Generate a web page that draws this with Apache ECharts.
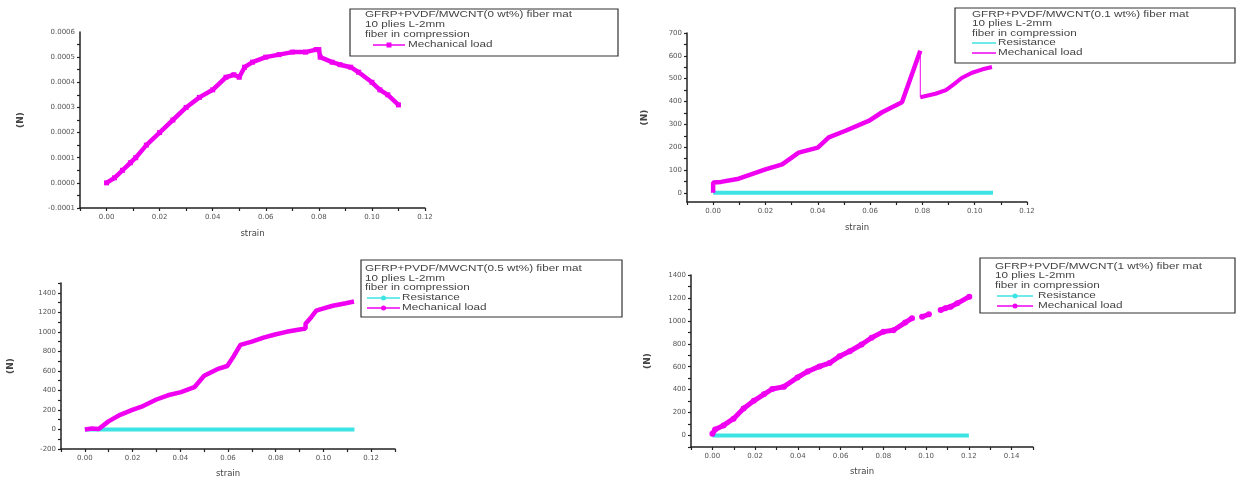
<!DOCTYPE html>
<html><head><meta charset="utf-8">
<script src="https://cdn.jsdelivr.net/npm/echarts@6/dist/echarts.min.js"></script>
<style>html,body{margin:0;padding:0;background:#fff}#c{width:1243px;height:479px}</style>
</head><body><div id="c"></div>
<script>
// ---------- DATA ----------
// Panel 1: 0 wt%
const strain1 = [0, 0.003, 0.006, 0.009, 0.011, 0.015, 0.020, 0.025, 0.030, 0.035, 0.040, 0.045, 0.048, 0.050, 0.052, 0.055, 0.060, 0.065, 0.070, 0.075, 0.079, 0.080, 0.0805, 0.085, 0.088, 0.092, 0.095, 0.100, 0.103, 0.106, 0.110];
const load1 = [0, 0.00002, 0.00005, 0.00008, 0.0001, 0.00015, 0.0002, 0.00025, 0.0003, 0.00034, 0.00037, 0.00042, 0.00043, 0.00042, 0.00046, 0.00048, 0.0005, 0.00051, 0.00052, 0.00052, 0.00053, 0.00053, 0.0005, 0.00048, 0.00047, 0.00046, 0.00044, 0.0004, 0.00037, 0.00035, 0.00031];
// Panel 2: 0.1 wt%
const strain2a = [0, 0, 0.003, 0.0098, 0.020, 0.0264, 0.0327, 0.040, 0.0442, 0.0506, 0.0597, 0.0646, 0.0722, 0.0729, 0.0792];
const load2a = [0, 45, 48, 62, 103, 125, 176, 198, 243, 272, 316, 353, 397, 404, 622];
const strain2drop = [0.0792, 0.0792];
const load2drop = [622, 419];
const strain2b = [0.0792, 0.085, 0.089, 0.092, 0.095, 0.099, 0.103, 0.1066];
const load2b = [419, 434, 450, 475, 503, 526, 541, 551];
const strain2r = [0, 0.107];
const res2 = [0, 0];
// Panel 3: 0.5 wt%
const strain3 = [0, 0.003, 0.0058, 0.0099, 0.0148, 0.0199, 0.0244, 0.030, 0.0348, 0.0403, 0.0459, 0.050, 0.0555, 0.0597, 0.0624, 0.0652, 0.070, 0.0749, 0.0797, 0.0845, 0.090, 0.0925, 0.0925, 0.0949, 0.097, 0.099, 0.1039, 0.1094, 0.1128];
const load3 = [0, 10, 5, 83, 150, 200, 240, 307, 350, 383, 433, 550, 617, 650, 750, 867, 900, 940, 973, 1000, 1023, 1033, 1083, 1150, 1217, 1233, 1267, 1293, 1310];
const strain3r = [0, 0.113];
const res3 = [0, 0];
// Panel 4: 1 wt%
const strain4 = [0, 0.0013, 0.0052, 0.0099, 0.0146, 0.0194, 0.0241, 0.028, 0.0335, 0.0398, 0.0446, 0.0501, 0.0548, 0.0595, 0.0643, 0.0698, 0.0745, 0.080, 0.0847, 0.0902, 0.0934, 0.096, 0.0981, 0.1013, 0.104, 0.1068, 0.109, 0.1115, 0.1146, 0.1202];
const load4 = [15, 53, 88, 147, 235, 303, 359, 406, 426, 506, 559, 603, 632, 691, 735, 794, 853, 906, 918, 985, 1023, null, 1035, 1058, null, 1094, 1111, 1123, 1153, 1211];
const strain4r = [0, 0.12];
const res4 = [0, 0];

const xTicks1 = [0, 0.02, 0.04, 0.06, 0.08, 0.10, 0.12];
const xTicks3 = [0, 0.02, 0.04, 0.06, 0.08, 0.10, 0.12];
const xTicks4 = [0, 0.02, 0.04, 0.06, 0.08, 0.10, 0.12, 0.14];
const yTicks1 = [-0.0001, 0, 0.0001, 0.0002, 0.0003, 0.0004, 0.0005, 0.0006];
const yTicks2 = [0, 100, 200, 300, 400, 500, 600, 700];
const yTicks3 = [-200, 0, 200, 400, 600, 800, 1000, 1200, 1400];
const yTicks4 = [0, 200, 400, 600, 800, 1000, 1200, 1400];

const legendTitles = [
  ["GFRP+PVDF/MWCNT(0 wt%) fiber mat", "10 plies L-2mm", "fiber in compression"],
  ["GFRP+PVDF/MWCNT(0.1 wt%) fiber mat", "10 plies L-2mm", "fiber in compression"],
  ["GFRP+PVDF/MWCNT(0.5 wt%) fiber mat", "10 plies L-2mm", "fiber in compression"],
  ["GFRP+PVDF/MWCNT(1 wt%) fiber mat", "10 plies L-2mm", "fiber in compression"]
];
const seriesNames = ["Resistance", "Mechanical load"];
const xName = "strain";
const yName = "(N)";

// ---------- BUILD ----------
const MAG = '#f000f0', CYA = '#3ee3e3', AX = '#222', TXT = '#555';
const pairs = (xs, ys) => xs.map((x, i) => [x, ys[i] === null ? null : ys[i]]);
const fontFam = 'Liberation Sans, Arial, sans-serif';
const tickFam = 'DejaVu Sans, sans-serif';

const grids = [
  {left: 80, top: 32, width: 345, height: 176},
  {left: 687, top: 33, width: 340, height: 169},
  {left: 61, top: 283, width: 334, height: 170},
  {left: 691, top: 275, width: 342, height: 172}
];
const xr = [[-0.01, 0.12, xTicks1], [-0.01, 0.12, xTicks1], [-0.01, 0.13, xTicks3], [-0.01, 0.15, xTicks4]];
const yr = [[-0.0001, 0.0006, yTicks1, v => v.toFixed(4), 55], [-40, 700, yTicks2, v => String(v), 38], [-200, 1500, yTicks3, v => String(v), 46], [-100, 1400, yTicks4, v => String(v), 39]];

function allTicks(major, lo, hi) {
  const step = (major[1] - major[0]) / 2;
  const r = [];
  for (let v = major[0] - step * 4; v <= hi + 1e-12; v += step) {
    const rv = Math.round(v / step * 1e6) / 1e6 * step;
    if (rv >= lo - 1e-12 && rv <= hi + 1e-12) r.push(rv);
  }
  return r;
}

const xAxis = xr.map((r, i) => ({
  type: 'value', gridIndex: i, min: r[0], max: r[1],
  name: xName, nameLocation: 'middle', nameGap: i < 2 ? 21 : 20,
  nameTextStyle: {fontSize: 8.5, color: '#444', fontFamily: tickFam},
  axisLine: {show: true, onZero: false, lineStyle: {color: AX, width: 1.5}},
  axisTick: {show: true, customValues: allTicks(r[2], r[0], r[1]), length: 3, lineStyle: {color: AX, width: 1.2}},
  axisLabel: {customValues: r[2], formatter: v => v.toFixed(2), fontSize: 7, color: TXT, margin: 6, fontFamily: tickFam},
  splitLine: {show: false}
}));
const yAxis = yr.map((r, i) => ({
  type: 'value', gridIndex: i, min: r[0], max: r[1],
  name: yName, nameLocation: 'middle', nameGap: r[4], nameRotate: 90,
  nameTextStyle: {fontSize: 9, color: '#444', fontWeight: 'bold', fontFamily: tickFam},
  axisLine: {show: true, onZero: false, lineStyle: {color: AX, width: 1.5}},
  axisTick: {show: true, customValues: allTicks(r[2], r[0], r[1]), length: 3, lineStyle: {color: AX, width: 1.2}},
  axisLabel: {customValues: r[2], formatter: r[3], fontSize: 7, color: TXT, margin: 5, fontFamily: tickFam},
  splitLine: {show: false}
}));

function line(i, name, data, color, w, sym, extra) {
  return Object.assign({
    type: 'line', name, xAxisIndex: i, yAxisIndex: i, data,
    showSymbol: !!sym, symbol: sym || 'none', symbolSize: 5,
    itemStyle: {color}, lineStyle: {color, width: w},
    connectNulls: false, animation: false, silent: true, z: name === seriesNames[1] ? 3 : 2
  }, extra || {});
}

const series = [
  line(0, seriesNames[1], pairs(strain1, load1), MAG, 4.5, 'rect'),
  line(1, seriesNames[0], pairs(strain2r, res2), CYA, 4, null),
  line(1, seriesNames[1], pairs(strain2a, load2a), MAG, 4.5, null),
  line(1, seriesNames[1] + ' drop', pairs(strain2drop, load2drop), MAG, 1, null),
  line(1, seriesNames[1] + ' b', pairs(strain2b, load2b), MAG, 4, null),
  line(2, seriesNames[0], pairs(strain3r, res3), CYA, 4, null),
  line(2, seriesNames[1], pairs(strain3, load3), MAG, 4.5, null),
  line(3, seriesNames[0], pairs(strain4r, res4), CYA, 4, null),
  line(3, seriesNames[1], pairs(strain4, load4), MAG, 5, 'circle', {symbolSize: 6})
];

// legends as graphic
const legendBoxes = [
  {x: 350, y: 9, w: 268, h: 47, tx: 365, ly: [15, 25, 35], items: [[373, 405, 408, 45, MAG, 'rect', 1]]},
  {x: 955, y: 8, w: 280, h: 55, tx: 972, ly: [15, 24, 34], items: [[972, 996, 998, 43, CYA, null, 0], [972, 996, 998, 53, MAG, null, 1]]},
  {x: 361, y: 260, w: 261, h: 57, tx: 365, ly: [269, 279, 288], items: [[367, 400, 402, 298, CYA, 'circle', 0], [367, 400, 402, 308, MAG, 'circle', 1]]},
  {x: 980, y: 258, w: 255, h: 55, tx: 995, ly: [267, 276, 286], items: [[997, 1033, 1038, 296, CYA, 'circle', 0], [997, 1033, 1038, 306, MAG, 'circle', 1]]}
];
const graphic = [];
const SX = 1.3;
legendBoxes.forEach((b, k) => {
  graphic.push({type: 'rect', shape: {x: b.x, y: b.y, width: b.w, height: b.h}, style: {fill: '#fff', stroke: '#333', lineWidth: 1.2}, z: 10});
  legendTitles[k].forEach((t, j) => {
    graphic.push({type: 'group', x: b.tx, y: b.ly[j], scaleX: SX, z: 11, children: [
      {type: 'text', style: {text: t, fontSize: 9, fill: '#444', fontFamily: fontFam, verticalAlign: 'middle'}, z: 11}
    ]});
  });
  b.items.forEach(it => {
    graphic.push({type: 'line', shape: {x1: it[0], y1: it[3], x2: it[1], y2: it[3]}, style: {stroke: it[4], lineWidth: 1.5}, z: 11});
    if (it[5] === 'rect') graphic.push({type: 'rect', shape: {x: (it[0] + it[1]) / 2 - 2.5, y: it[3] - 2.5, width: 5, height: 5}, style: {fill: it[4]}, z: 12});
    if (it[5] === 'circle') graphic.push({type: 'circle', shape: {cx: (it[0] + it[1]) / 2, cy: it[3], r: 2.5}, style: {fill: it[4]}, z: 12});
    graphic.push({type: 'group', x: it[2], y: it[3], scaleX: SX, z: 11, children: [
      {type: 'text', style: {text: seriesNames[it[6]], fontSize: 9, fill: '#444', fontFamily: fontFam, verticalAlign: 'middle'}, z: 11}
    ]});
  });
});

const chart = echarts.init(document.getElementById('c'), null, {renderer: 'canvas'});
chart.setOption({
  backgroundColor: '#fff', animation: false,
  grid: grids.map(g => Object.assign({containLabel: false}, g)),
  xAxis, yAxis, series, graphic
});
</script></body></html>
